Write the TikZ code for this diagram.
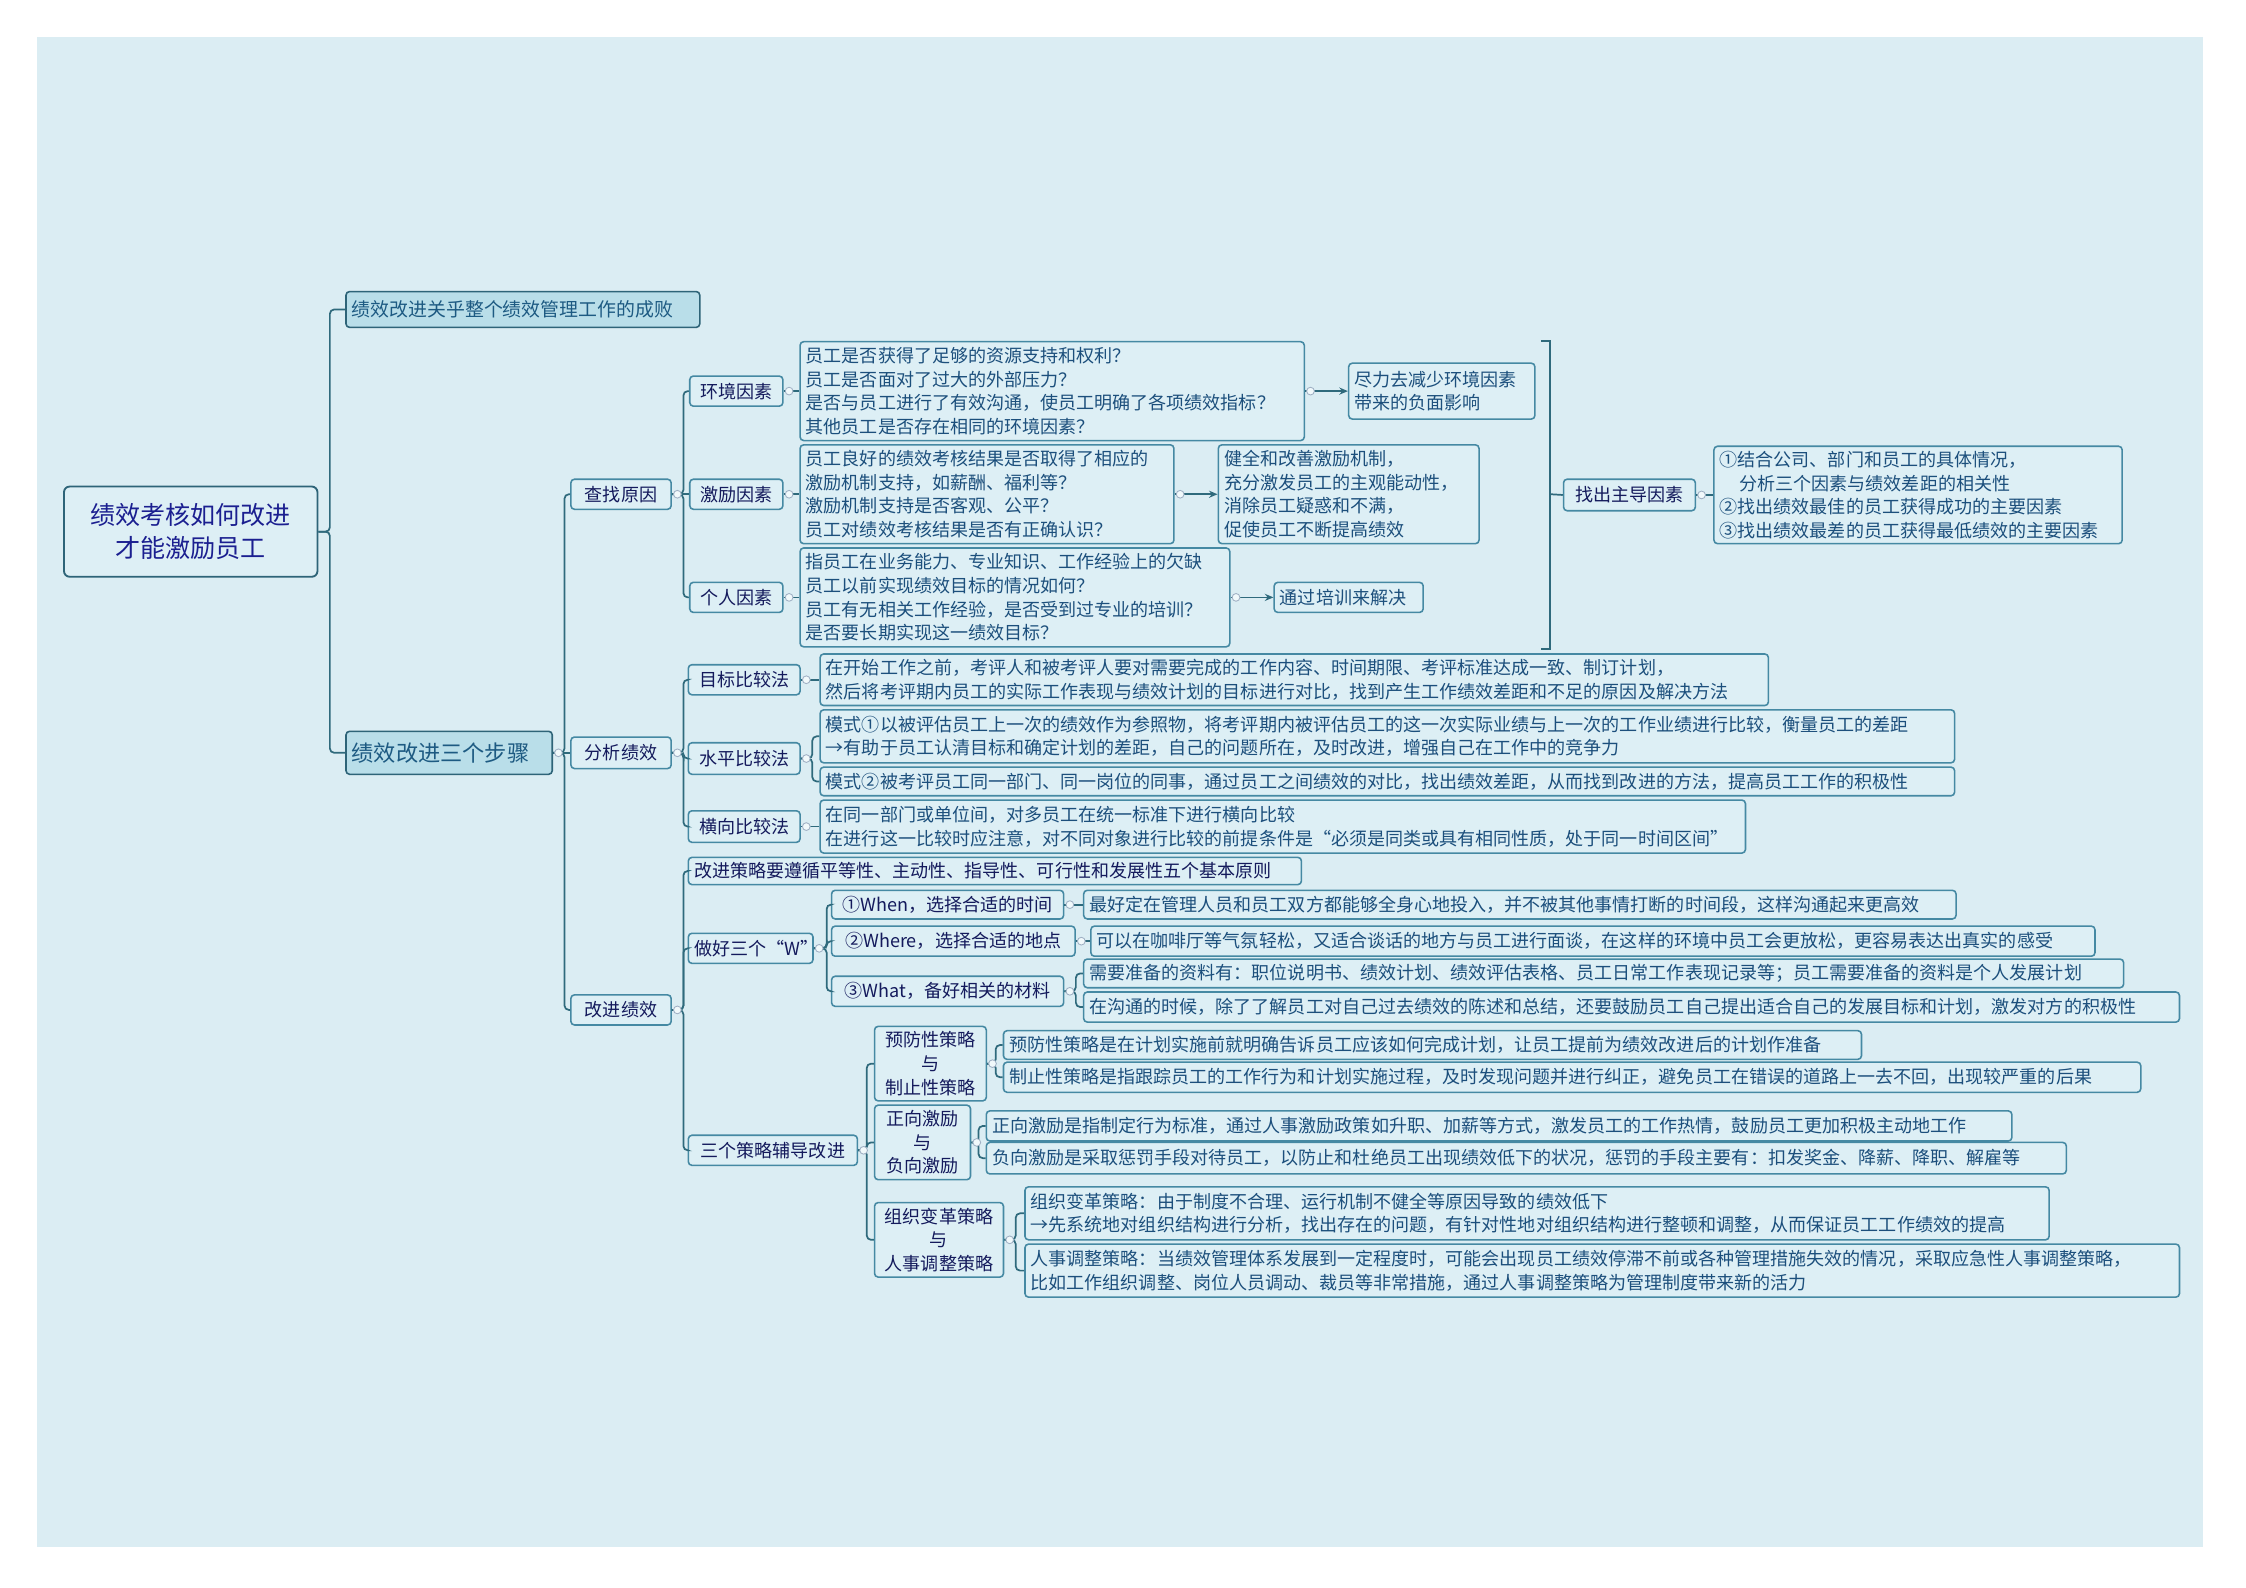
\documentclass[tikz,border=0pt]{standalone}
\usepackage{fontspec}
\setmainfont{Noto Sans CJK SC}
\usetikzlibrary{arrows.meta}
\definecolor{pagebg}{HTML}{DBEDF3}
\definecolor{nodefill}{HTML}{DDEFF5}
\definecolor{mainfill}{HTML}{B9DEE9}
\definecolor{bordercol}{HTML}{4589A3}
\definecolor{rootborder}{HTML}{2E6478}
\definecolor{linecol}{HTML}{2F6A7C}
\definecolor{lbltext}{HTML}{141A5C}
\definecolor{bodytext}{HTML}{1C4F7C}
\definecolor{roottext}{HTML}{1B1F90}
\definecolor{maintext}{HTML}{1D5A82}
\definecolor{knobcol}{HTML}{9FB0C4}
\begin{document}
\begin{tikzpicture}[x=1pt,y=-1pt,
  base/.style={draw=bordercol, fill=nodefill, rounded corners=2.5pt, line width=1.1pt, inner xsep=4pt, inner ysep=2pt, anchor=north west},
  body/.style={base, text=bodytext, align=left, font=\fontsize{12.6}{16.5}\selectfont},
  lbl/.style={base, text=lbltext, align=center, font=\fontsize{12.6}{16.5}\selectfont},
  lbll/.style={base, text=lbltext, align=left, font=\fontsize{12.6}{16.5}\selectfont},
  mainbox/.style={base, fill=mainfill, draw=rootborder, text=maintext, align=left},
  cn/.style={draw=linecol, line width=1.2pt, rounded corners=3pt},
  ar/.style={draw=linecol, line width=1.2pt, -{Stealth[length=6pt,width=5pt]}},
  knob/.style={fill=white!60!nodefill, draw=knobcol, line width=0.6pt}
]
\useasboundingbox (0,0) rectangle (1568,1108);
\fill[white] (0,0) rectangle (1568,1108);
\fill[pagebg] (26,26) rectangle (1538,1080);

% root and main branches
\node[base, draw=rootborder, line width=1.3pt, rounded corners=4pt, text=roottext, align=center, font=\fontsize{17.5}{23}\selectfont, text width=169pt, minimum height=63pt] (root) at (44,339) {绩效考核如何改进\\才能激励员工};
\node[mainbox, font=\fontsize{13.2}{16}\selectfont, text width=239pt, minimum height=25pt] (a1) at (241,203) {绩效改进关乎整个绩效管理工作的成败};
\node[mainbox, font=\fontsize{15.5}{18}\selectfont, text width=136pt, minimum height=30pt] (a2) at (241,510) {绩效改进三个步骤};

% level 3
\node[lbl, text width=62pt, minimum height=21pt] (b1) at (398,334) {查找原因};
\node[lbl, text width=62pt, minimum height=22pt] (b2) at (398,514) {分析绩效};
\node[lbl, text width=62pt, minimum height=21pt] (b3) at (398,694) {改进绩效};

% 查找原因
\node[lbl, text width=57pt, minimum height=21pt] (c1) at (481,262) {环境因素};
\node[lbl, text width=57pt, minimum height=21pt] (c2) at (481,334) {激励因素};
\node[lbl, text width=57pt, minimum height=21pt] (c3) at (481,406) {个人因素};

\node[body, text width=344pt, minimum height=69pt] (d1) at (558,238) {员工是否获得了足够的资源支持和权利？\\员工是否面对了过大的外部压力？\\是否与员工进行了有效沟通，使员工明确了各项绩效指标？\\其他员工是否存在相同的环境因素？};
\node[body, text width=253pt, minimum height=69pt] (d2) at (558,310) {员工良好的绩效考核结果是否取得了相应的\\激励机制支持，如薪酬、福利等？\\激励机制支持是否客观、公平？\\员工对绩效考核结果是否有正确认识？};
\node[body, text width=292pt, minimum height=69pt] (d3) at (558,382) {指员工在业务能力、专业知识、工作经验上的欠缺\\员工以前实现绩效目标的情况如何？\\员工有无相关工作经验，是否受到过专业的培训？\\是否要长期实现这一绩效目标？};

\node[body, text width=122pt, minimum height=39pt] (e1) at (941,253) {尽力去减少环境因素\\带来的负面影响};
\node[body, text width=174pt, minimum height=69pt] (e2) at (850,310) {健全和改善激励机制，\\充分激发员工的主观能动性，\\消除员工疑惑和不满，\\促使员工不断提高绩效};
\node[body, text width=96pt, minimum height=21pt] (e3) at (889,406) {通过培训来解决};

\node[lbl, text width=84pt, minimum height=22pt] (f) at (1091,334) {找出主导因素};
\node[body, text width=277pt, minimum height=68pt] (g) at (1196,311) {①结合公司、部门和员工的具体情况，\\\hspace*{1.1em}分析三个因素与绩效差距的相关性\\②找出绩效最佳的员工获得成功的主要因素\\③找出绩效最差的员工获得最低绩效的主要因素};

% 分析绩效
\node[lbl, text width=70pt, minimum height=21pt] (h1) at (480,463.5) {目标比较法};
\node[lbl, text width=70pt, minimum height=22pt] (h2) at (480,518) {水平比较法};
\node[lbl, text width=70pt, minimum height=22pt] (h3) at (480,565.5) {横向比较法};

\node[body, text width=654pt, minimum height=36pt] (i1) at (572,456) {在开始工作之前，考评人和被考评人要对需要完成的工作内容、时间期限、考评标准达成一致、制订计划，\\然后将考评期内员工的实际工作表现与绩效计划的目标进行对比，找到产生工作绩效差距和不足的原因及解决方法};
\node[body, text width=784pt, minimum height=37pt] (i2a) at (572,495) {模式①以被评估员工上一次的绩效作为参照物，将考评期内被评估员工的这一次实际业绩与上一次的工作业绩进行比较，衡量员工的差距\\→有助于员工认清目标和确定计划的差距，自己的问题所在，及时改进，增强自己在工作中的竞争力};
\node[body, text width=784pt, minimum height=20pt] (i2b) at (572,535) {模式②被考评员工同一部门、同一岗位的同事，通过员工之间绩效的对比，找出绩效差距，从而找到改进的方法，提高员工工作的积极性};
\node[body, text width=638pt, minimum height=37pt] (i3) at (572,558) {在同一部门或单位间，对多员工在统一标准下进行横向比较\\在进行这一比较时应注意，对不同对象进行比较的前提条件是“必须是同类或具有相同性质，处于同一时间区间”};

% 改进绩效
\node[lbll, text width=420pt, minimum height=19pt] (j1) at (480,598) {改进策略要遵循平等性、主动性、指导性、可行性和发展性五个基本原则};
\node[lbl, text width=79pt, minimum height=21pt] (j2) at (480,651) {做好三个“W”};
\node[lbl, text width=110pt, minimum height=21pt] (j3) at (480,792) {三个策略辅导改进};

\node[lbl, text width=154pt, minimum height=20pt] (k1) at (580,621) {①When，选择合适的时间};
\node[lbl, text width=162pt, minimum height=21pt] (k2) at (580,646) {②Where，选择合适的地点};
\node[lbl, text width=154pt, minimum height=21pt] (k3) at (580,681) {③What，备好相关的材料};

\node[body, text width=601pt, minimum height=20pt] (l1) at (756,621) {最好定在管理人员和员工双方都能够全身心地投入，并不被其他事情打断的时间段，这样沟通起来更高效};
\node[body, text width=693pt, minimum height=21pt] (l2) at (761,646) {可以在咖啡厅等气氛轻松，又适合谈话的地方与员工进行面谈，在这样的环境中员工会更放松，更容易表达出真实的感受};
\node[body, text width=718pt, minimum height=20pt] (l3a) at (756,669) {需要准备的资料有：职位说明书、绩效计划、绩效评估表格、员工日常工作表现记录等；员工需要准备的资料是个人发展计划};
\node[body, text width=757pt, minimum height=21pt] (l3b) at (756,692) {在沟通的时候，除了了解员工对自己过去绩效的陈述和总结，还要鼓励员工自己提出适合自己的发展目标和计划，激发对方的积极性};

\node[lbl, text width=70pt, minimum height=52pt] (m1) at (610,716) {预防性策略\\与\\制止性策略};
\node[lbl, text width=59pt, minimum height=52pt] (m2) at (610,771) {正向激励\\与\\负向激励};
\node[lbl, text width=82pt, minimum height=52pt] (m3) at (610,839) {组织变革策略\\与\\人事调整策略};

\node[body, text width=591pt, minimum height=20pt] (n1a) at (700,719) {预防性策略是在计划实施前就明确告诉员工应该如何完成计划，让员工提前为绩效改进后的计划作准备};
\node[body, text width=786pt, minimum height=21pt] (n1b) at (700,741) {制止性策略是指跟踪员工的工作行为和计划实施过程，及时发现问题并进行纠正，避免员工在错误的道路上一去不回，出现较严重的后果};
\node[body, text width=708pt, minimum height=21pt] (n2a) at (688,775) {正向激励是指制定行为标准，通过人事激励政策如升职、加薪等方式，激发员工的工作热情，鼓励员工更加积极主动地工作};
\node[body, text width=746pt, minimum height=22pt] (n2b) at (688,797) {负向激励是采取惩罚手段对待员工，以防止和杜绝员工出现绩效低下的状况，惩罚的手段主要有：扣发奖金、降薪、降职、解雇等};
\node[body, text width=707pt, minimum height=37pt] (n3a) at (715,828) {组织变革策略：由于制度不合理、运行机制不健全等原因导致的绩效低下\\→先系统地对组织结构进行分析，找出存在的问题，有针对性地对组织结构进行整顿和调整，从而保证员工工作绩效的提高};
\node[body, text width=798pt, minimum height=37pt] (n3b) at (715,868) {人事调整策略：当绩效管理体系发展到一定程度时，可能会出现员工绩效停滞不前或各种管理措施失效的情况，采取应急性人事调整策略，\\比如工作组织调整、岗位人员调动、裁员等非常措施，通过人事调整策略为管理制度带来新的活力};

% connectors
\draw[cn] (root.east) -- +(8,0) |- (a1.west);
\draw[cn] (root.east) -- +(8,0) |- (a2.west);
\draw[cn] (a2.east) -- +(8,0) |- (b1.west);
\draw[cn] (a2.east) -- (b2.west);
\draw[cn] (a2.east) -- +(8,0) |- (b3.west);
\draw[cn] (b1.east) -- +(8,0) |- (c1.west);
\draw[cn] (b1.east) -- (c2.west);
\draw[cn] (b1.east) -- +(8,0) |- (c3.west);
\draw[cn] (c1.east) -- (d1.west);
\draw[cn] (c2.east) -- (d2.west);
\draw[cn] (c3.east) -- (d3.west);
\draw[ar] (d1.east) -- (e1.west);
\draw[ar] (d2.east) -- (e2.west);
\draw[ar] (d3.east) -- (e3.west);
\coordinate (brt) at (1076,238);
\coordinate (brb) at (1076,453);
\coordinate (brm) at (1082,345);
\draw[draw=linecol, line width=1.2pt] (brt) -- ++(6,0) -- ++(0,215) -- (brb);
\draw[cn] (brm) -- (f.west);
\draw[cn] (f.east) -- (g.west);
\draw[cn] (b2.east) -- +(8,0) |- (h1.west);
\draw[cn] (b2.east) -- +(8,0) |- (h2.west);
\draw[cn] (b2.east) -- +(8,0) |- (h3.west);
\draw[cn] (h1.east) -- (i1.west);
\draw[cn] (h2.east) -- +(8,0) |- (i2a.west);
\draw[cn] (h2.east) -- +(8,0) |- (i2b.west);
\draw[cn] (h3.east) -- (i3.west);
\draw[cn] (b3.east) -- +(8,0) |- (j1.west);
\draw[cn] (b3.east) -- +(8,0) |- (j2.west);
\draw[cn] (b3.east) -- +(8,0) |- (j3.west);
\draw[cn] (j2.east) -- +(9,0) |- (k1.west);
\draw[cn] (j2.east) -- +(9,0) |- (k2.west);
\draw[cn] (j2.east) -- +(9,0) |- (k3.west);
\draw[cn] (k1.east) -- (l1.west);
\draw[cn] (k2.east) -- (l2.west);
\draw[cn] (k3.east) -- +(8,0) |- (l3a.west);
\draw[cn] (k3.east) -- +(8,0) |- (l3b.west);
\draw[cn] (j3.east) -- +(6,0) |- (m1.west);
\draw[cn] (j3.east) -- +(6,0) |- (m2.west);
\draw[cn] (j3.east) -- +(6,0) |- (m3.west);
\draw[cn] (m1.east) -- +(6,0) |- (n1a.west);
\draw[cn] (m1.east) -- +(6,0) |- (n1b.west);
\draw[cn] (m2.east) -- +(5,0) |- (n2a.west);
\draw[cn] (m2.east) -- +(5,0) |- (n2b.west);
\draw[cn] (m3.east) -- +(8,0) |- (n3a.west);
\draw[cn] (m3.east) -- +(8,0) |- (n3b.west);

% collapse knobs
\foreach \p in {a2,b1,b2,b3,c1,c2,c3,d1,d2,d3,f,h1,h2,h3,j2,j3,k1,k2,k3,m1,m2,m3}
  \draw[knob] ([xshift=3.8pt]\p.east) circle[radius=2.7pt];
\end{tikzpicture}
\end{document}
